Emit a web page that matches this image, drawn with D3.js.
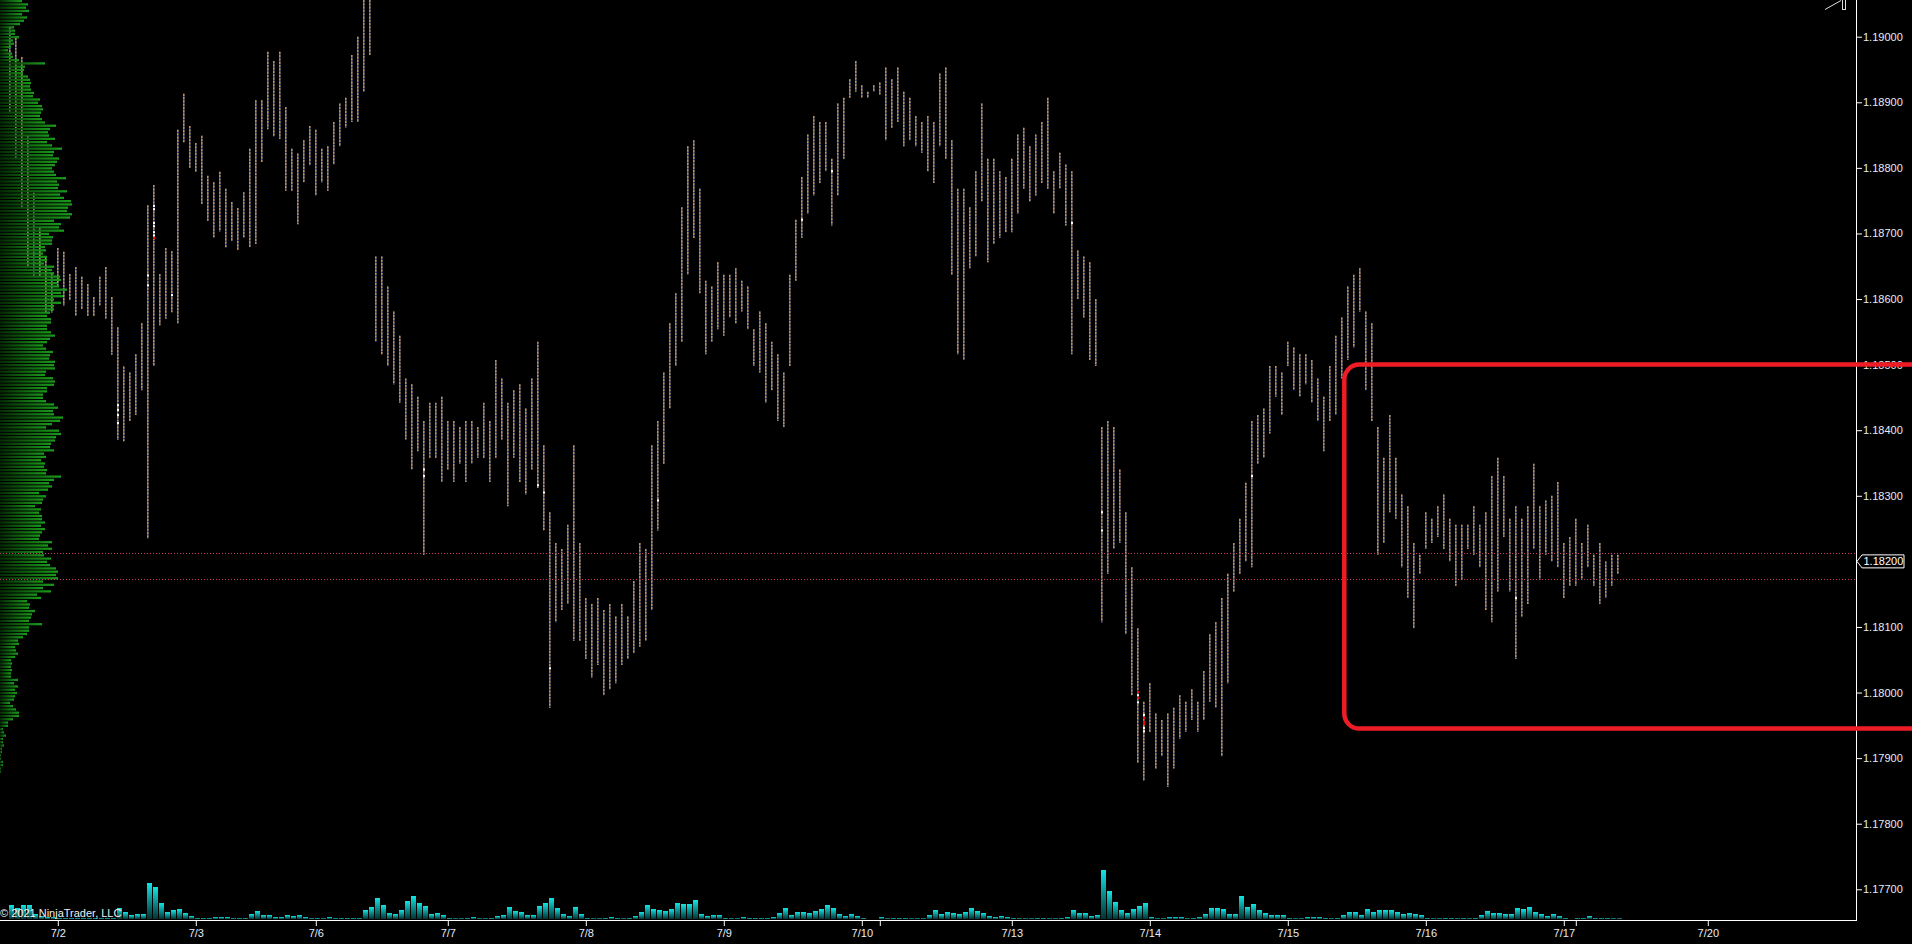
<!DOCTYPE html>
<html><head><meta charset="utf-8">
<script src="https://cdn.jsdelivr.net/npm/d3@7"></script>
<style>html,body{margin:0;padding:0;background:#000;overflow:hidden}</style>
</head><body>
<svg id="c" width="1912" height="944"></svg>
<script>
// ---------- DATA ----------
const barHigh = [
1.19015,1.18998,1.18969,1.18850,1.18762,1.18709,1.18663,1.18640,1.18678,1.18672,1.18638,1.18649,1.18634,1.18623,1.18603,1.18634,1.18649,1.18603,1.18557,1.18497,
1.18488,1.18516,1.18563,1.18743,1.18774,1.18638,1.18678,1.18673,1.18858,1.18913,1.18864,1.18838,1.18849,1.18788,1.18778,1.18794,1.18768,1.18748,1.18739,1.18763,
1.18829,1.18903,1.18903,1.18977,1.18963,1.18977,1.18893,1.18829,1.18822,1.18842,1.18864,1.18858,1.18829,1.18833,
1.18870,1.18898,1.18907,1.18972,1.19000,1.19056,1.19056,1.18665,1.18665,1.18619,
1.18581,1.18544,1.18479,1.18470,1.18451,1.18414,1.18442,1.18442,1.18451,1.18414,
1.18414,1.18405,1.18414,1.18414,1.18405,1.18442,1.18414,1.18507,1.18479,1.18442,
1.18461,1.18470,1.18433,1.18479,1.18535,1.18377,1.18275,1.18228,1.18219,1.18256,
1.18377,1.18228,1.18144,1.18135,1.18144,1.18126,1.18135,1.18116,1.18135,1.18116,
1.18170,
1.18228,1.18219,1.18377,1.18414,1.18488,1.18563,1.18609,1.18740,1.18833,1.18842,
1.18768,1.18628,1.18619,1.18656,1.18637,1.18637,1.18647,1.18628,1.18619,1.18554,
1.18581,1.18563,1.18535,1.18516,1.18488,1.18637,1.18721,1.18786,1.18851,1.18879,
1.18870,1.18870,1.18814,1.18898,1.18907,1.18935,1.18963,1.18926,1.18916,1.18926,
1.18930,
1.18953,1.18935,1.18953,1.18916,1.18907,1.18879,1.18870,1.18879,1.18870,1.18944,
1.18953,1.18842,1.18768,1.18768,1.18740,1.18795,1.18898,1.18814,1.18814,1.18795,
1.18786,1.18814,1.18851,1.18861,1.18833,1.18851,1.18870,1.18907,1.18795,1.18823,
1.18805,1.18795,1.18674,1.18665,1.18656,1.18600,1.18405,1.18414,1.18405,1.18340,
1.18275,1.18191,1.18098,1.17986,1.18014,1.17968,1.17958,1.17968,1.17977,1.17996,
1.17986,1.18005,1.17986,1.18033,1.18089,1.18107,1.18144,1.18181,1.18228,1.18265,
1.18320,
1.18414,1.18423,1.18433,1.18498,1.18498,1.18488,1.18535,1.18526,1.18516,1.18516,
1.18507,1.18479,1.18451,1.18498,1.18544,1.18572,1.18619,1.18637,1.18647,1.18581,
1.18563,1.18405,1.18358,1.18423,1.18358,1.18302,1.18284,1.18228,1.18210,1.18275,
1.18265,1.18284,1.18302,1.18265,1.18256,1.18256,1.18256,1.18284,1.18256,1.18275,
1.18330,1.18358,1.18330,1.18265,1.18284,1.18265,1.18284,1.18349,1.18284,1.18293,
1.18300,
1.18321,1.18228,1.18237,1.18265,1.18228,1.18256,1.18210,1.18228,1.18200,1.18210,
1.18210
];
const barLow = [
1.18884,1.18813,1.18739,1.18649,1.18634,1.18634,1.18579,1.18579,1.18619,1.18590,1.18598,1.18574,1.18585,1.18574,1.18574,1.18590,1.18570,1.18515,1.18385,1.18383,
1.18414,1.18423,1.18461,1.18235,1.18498,1.18560,1.18570,1.18580,1.18563,1.18839,1.18800,1.18794,1.18745,1.18719,1.18694,1.18703,1.18679,1.18688,1.18675,1.18694,
1.18679,1.18684,1.18809,1.18859,1.18848,1.18844,1.18765,1.18765,1.18714,1.18778,1.18804,1.18758,1.18778,1.18765,
1.18805,1.18833,1.18861,1.18870,1.18870,1.18916,1.18972,1.18535,1.18516,1.18498,
1.18470,1.18442,1.18386,1.18340,1.18368,1.18210,1.18358,1.18358,1.18321,1.18340,
1.18321,1.18349,1.18321,1.18349,1.18358,1.18358,1.18321,1.18358,1.18386,1.18284,
1.18358,1.18321,1.18302,1.18340,1.18312,1.18247,1.17977,1.18107,1.18126,1.18135,
1.18079,1.18079,1.18051,1.18023,1.18042,1.17996,1.18005,1.18014,1.18042,1.18051,
1.18060,
1.18070,1.18079,1.18126,1.18247,1.18349,1.18433,1.18498,1.18535,1.18637,1.18693,
1.18609,1.18516,1.18535,1.18554,1.18544,1.18572,1.18563,1.18581,1.18554,1.18498,
1.18488,1.18442,1.18461,1.18414,1.18405,1.18498,1.18628,1.18693,1.18730,1.18758,
1.18777,1.18795,1.18712,1.18758,1.18814,1.18907,1.18916,1.18907,1.18907,1.18916,
1.18912,
1.18842,1.18861,1.18870,1.18833,1.18842,1.18833,1.18823,1.18795,1.18777,1.18833,
1.18814,1.18637,1.18516,1.18507,1.18647,1.18665,1.18749,1.18656,1.18684,1.18693,
1.18702,1.18702,1.18730,1.18768,1.18749,1.18758,1.18777,1.18768,1.18730,1.18768,
1.18712,1.18516,1.18600,1.18572,1.18507,1.18498,1.18107,1.18181,1.18219,1.18228,
1.18089,1.17996,1.17893,1.17865,1.17940,1.17884,1.17903,1.17856,1.17884,1.17930,
1.17940,1.17958,1.17940,1.17958,1.17986,1.17977,1.17903,1.18014,1.18154,1.18181,
1.18200,
1.18191,1.18349,1.18358,1.18395,1.18451,1.18423,1.18498,1.18461,1.18451,1.18470,
1.18442,1.18414,1.18368,1.18414,1.18423,1.18479,1.18507,1.18526,1.18581,1.18461,
1.18414,1.18210,1.18228,1.18275,1.18265,1.18191,1.18144,1.18098,1.18181,1.18219,
1.18228,1.18237,1.18219,1.18200,1.18163,1.18172,1.18219,1.18210,1.18191,1.18126,
1.18107,1.18154,1.18237,1.18154,1.18051,1.18116,1.18135,1.18219,1.18172,1.18210,
1.18200,
1.18191,1.18144,1.18163,1.18163,1.18172,1.18191,1.18163,1.18135,1.18144,1.18163,
1.18181
];
const volume = [
14,11,14,14,5,3,2,2,1,1,1,1,1,1,1,1,1,1,11,7,4,5,5,36,32,16,7,9,10,6,3,1,1,1,2,2,2,1,1,1,
5,8,4,4,2,2,4,3,4,2,1,1,0.5,2,1,1,1,1,1,9,12,21,14,6,5,9,18,23,16,13,5,6,4,1,0.5,0.5,1,2,0.5,0.5,
1,3,4,12,8,7,4,4,13,16,21,11,5,3,12,5,1,0.5,0.5,1,2,1,0.5,1,3,7,14,10,9,8,10,16,15,15,19,5,3,4,
4,1,0.5,0.5,2,1,1,1,1,2,6,11,4,7,7,6,8,10,14,11,5,3,5,3,1,0,0,2,0.5,1,1,1,0.5,0.5,0.5,4,9,5,
7,6,5,7,11,8,6,3,2,3,2,1,0.5,0.5,0.5,1,1,0.5,0.5,1,2,9,6,6,3,4,49,28,17,9,6,10,13,16,2,0.5,
0.5,2,2,2,0.5,1,2,5,11,11,10,5,5,23,12,15,9,6,4,4,4,1,0.5,0.5,2,2,2,1,0.5,1,4,7,7,4,10,7,9,
9,9,7,5,6,5,4,1,0.5,0.5,1,1,0.5,1,0.5,1,4,8,6,6,5,5,11,10,12,7,5,3,5,3,1,0,1,1,3,1,1,1,0.5,0.5
];
const profileTop = 1.19056, profileStep = 0.00005;
const profileVol = [
22,28,26,29,22,27,24,20,14,15,15,19,13,14,11,8,12,13,19,45,25,24,23,28,30,31,30,31,34,33,
40,38,42,43,41,40,42,45,56,50,48,49,55,47,52,62,54,53,59,57,55,52,54,56,66,57,59,58,67,60,
64,71,72,68,67,72,70,54,61,59,64,49,53,52,52,45,46,43,47,47,44,54,52,54,60,61,57,59,67,61,
63,54,61,54,54,50,47,51,51,47,47,51,55,50,47,43,46,53,50,49,55,54,55,46,45,53,55,54,47,47,
43,43,46,54,58,53,54,63,60,52,46,59,61,56,55,51,50,54,44,46,41,45,44,47,46,61,54,49,52,48,
39,46,43,42,35,41,39,42,42,45,41,45,42,40,39,52,48,52,43,44,51,47,50,56,58,56,58,43,54,43,
51,37,41,27,30,29,35,32,31,29,42,29,29,27,23,18,19,15,16,18,15,11,12,11,12,11,11,18,14,18,
15,17,15,14,10,13,16,19,19,13,8,8,3,4,6,3,3,4,2,2,1,1,3,3,1,1
];
// tick marks on the time axis: bar index + label
const dateTickIdx   = [8,31,51,73,96,119,142,145,167,190,213,236,259,261,283];
const dateTickLabel = ["7/2","7/3","7/6","7/7","7/8","7/9","7/10","","7/13","7/14","7/15","7/16","7/17","","7/20"];
const priceTicks = [1.177,1.178,1.179,1.180,1.181,1.182,1.183,1.184,1.185,1.186,1.187,1.188,1.189,1.190];
const lastPrice = 1.18200;
const refLines = [1.18213, 1.18173];
// drawn rectangle: [startBarIndex, topPrice, bottomPrice]
const boxStart = 222.5, boxTop = 1.18500, boxBottom = 1.17945;
// highlighted ticks on bars: [barIndex, price, colour]
const marks = [
[18,1.18438,"#fff"],[18,1.18431,"#fff"],[18,1.18423,"#fff"],[18,1.18411,"#fff"],
[23,1.18636,"#fff"],[23,1.18621,"#fff"],
[24,1.18742,"#fff"],[24,1.18737,"#fff"],[24,1.18716,"#fff"],[24,1.18711,"#fff"],[24,1.18702,"#fff"],[24,1.18697,"#fff"],[24,1.18693,"#f00"],
[27,1.18606,"#fff"],
[69,1.18340,"#fff"],[69,1.18330,"#fff"],[88,1.18316,"#fff"],[89,1.18305,"#fff"],[90,1.18037,"#fff"],
[108,1.18293,"#fff"],[132,1.18721,"#fff"],[137,1.18795,"#fff"],[177,1.18716,"#fff"],
[182,1.18275,"#fff"],[182,1.18247,"#fff"],[207,1.18330,"#fff"],[251,1.18144,"#fff"],
[188,1.18001,"#f00"],[188,1.17996,"#fff"],[188,1.17992,"#f00"],[188,1.17985,"#fff"],
[189,1.17966,"#fff"],[189,1.17961,"#f00"],[189,1.17955,"#f00"],[189,1.17952,"#f00"],[189,1.17946,"#fff"],[189,1.17941,"#fff"]
];

// ---------- CHART ----------
const W = 1912, H = 944, axisX = 1856, axisY = 920;
const font = "Liberation Sans, Arial, sans-serif";
const svg = d3.select("#c");
svg.append("rect").attr("width", W).attr("height", H).attr("fill", "#000");

const x = d3.scaleLinear().domain([0, 283]).range([9.3, 1707.3]);
const y = d3.scaleLinear().domain([1.177, 1.19]).range([889.3, 36.7]);
const vy = d3.scaleLinear().domain([0, 50]).range([919, 869]);
const pw = d3.scaleLinear().domain([0, 72]).range([0, 72]);

const defs = svg.append("defs");
const gv = defs.append("linearGradient").attr("id", "gv").attr("x1", 0).attr("y1", 0).attr("x2", 0).attr("y2", 1);
gv.append("stop").attr("offset", 0).attr("stop-color", "#12e6e6");
gv.append("stop").attr("offset", 1).attr("stop-color", "#023232");
const gp = defs.append("linearGradient").attr("id", "gp").attr("x1", 0).attr("y1", 0).attr("x2", 1).attr("y2", 0);
gp.append("stop").attr("offset", 0).attr("stop-color", "#052a05");
gp.append("stop").attr("offset", 1).attr("stop-color", "#1a9a1a");
defs.append("clipPath").attr("id", "plot").append("rect").attr("x", 0).attr("y", 0).attr("width", axisX).attr("height", axisY);

const plot = svg.append("g").attr("clip-path", "url(#plot)");

// volume bars
plot.append("g").selectAll("rect").data(volume.map((v, i) => ({v, i})).filter(d => d.v > 0))
  .join("rect")
  .attr("x", d => x(d.i) - 0.3).attr("width", 5)
  .attr("y", d => vy(d.v)).attr("height", d => vy(0) - vy(d.v))
  .attr("fill", "url(#gv)");

// price bars
const bars = barHigh.map((h, i) => ({i, h, l: barLow[i]})).filter(d => d.h != null);
const gb = plot.append("g");
gb.selectAll("line.b").data(bars).join("line").attr("class", "b")
  .attr("x1", d => x(d.i) + 0.5).attr("x2", d => x(d.i) + 0.5)
  .attr("y1", d => y(d.h)).attr("y2", d => y(d.l))
  .attr("stroke", "#3558c8").attr("stroke-width", 1.3);
gb.selectAll("line.o").data(bars).join("line").attr("class", "o")
  .attr("x1", d => x(d.i) + 0.5).attr("x2", d => x(d.i) + 0.5)
  .attr("y1", d => y(d.h)).attr("y2", d => y(d.l))
  .attr("stroke", "#eda01c").attr("stroke-width", 1.3).attr("stroke-dasharray", "2.2,1.1");
gb.selectAll("rect.m").data(marks).join("rect").attr("class", "m")
  .attr("x", d => x(d[0]) - 0.3).attr("width", 2)
  .attr("y", d => y(d[1]) - 1).attr("height", 2).attr("fill", d => d[2]);

// volume profile
plot.append("g").selectAll("rect").data(profileVol.map((v, k) => ({v, k})))
  .join("rect")
  .attr("x", 0)
  .attr("y", d => y(profileTop - d.k * profileStep))
  .attr("height", d => Math.max(1, y(profileTop - (d.k + 1) * profileStep) - y(profileTop - d.k * profileStep) - 1))
  .attr("width", d => pw(d.v))
  .attr("fill", "url(#gp)");

// reference lines
plot.append("g").selectAll("line").data(refLines).join("line")
  .attr("x1", 0).attr("x2", axisX).attr("y1", d => Math.round(y(d)) + 0.5).attr("y2", d => Math.round(y(d)) + 0.5)
  .attr("stroke", "#c83c6e").attr("stroke-width", 1).attr("stroke-dasharray", "1,2");

// copyright
svg.append("text").attr("x", 0).attr("y", 917).attr("fill", "#f0f0f0")
  .attr("font-family", font).attr("font-size", 11)
  .text("© 2021 NinjaTrader, LLC");

// axes
const yAxis = d3.axisRight(y).tickValues(priceTicks).tickFormat(d3.format(".5f")).tickSize(6).tickPadding(1);
const ga = svg.append("g").attr("transform", `translate(${axisX},0)`).call(yAxis);
ga.select(".domain").remove();
ga.selectAll("line").attr("stroke", "#fff");
ga.selectAll("text").attr("fill", "#e6ecf8").attr("font-family", font).attr("font-size", 11);

const xAxis = d3.axisBottom(x).tickValues(dateTickIdx).tickFormat((d, k) => dateTickLabel[k]).tickSize(6).tickPadding(3);
const gx = svg.append("g").attr("transform", `translate(0.5,${axisY})`).call(xAxis);
gx.select(".domain").remove();
gx.selectAll("line").attr("stroke", "#fff");
gx.selectAll("text").attr("fill", "#e6ecf8").attr("font-family", font).attr("font-size", 11);

svg.append("line").attr("x1", axisX + 0.5).attr("x2", axisX + 0.5).attr("y1", 0).attr("y2", axisY + 0.5)
  .attr("stroke", "#fff").attr("stroke-width", 1);
svg.append("line").attr("x1", 0).attr("x2", axisX + 1).attr("y1", axisY + 0.5).attr("y2", axisY + 0.5)
  .attr("stroke", "#fff").attr("stroke-width", 1);

// last price marker
const ly = y(lastPrice);
svg.append("path")
  .attr("d", `M${axisX + 1},${ly} L${axisX + 6},${ly - 6.5} H${axisX + 48} V${ly + 6.5} H${axisX + 6} Z`)
  .attr("fill", "#000").attr("stroke", "#fff").attr("stroke-width", 1);
svg.append("text").attr("x", axisX + 7.5).attr("y", ly + 4).attr("fill", "#fff")
  .attr("font-family", font).attr("font-size", 11).text(d3.format(".5f")(lastPrice));

// drawn rectangle
svg.append("rect")
  .attr("x", x(boxStart)).attr("y", y(boxTop))
  .attr("width", 700).attr("height", y(boxBottom) - y(boxTop))
  .attr("rx", 15).attr("ry", 15)
  .attr("fill", "none").attr("stroke", "#ee1c25").attr("stroke-width", 4.5);

// scroll-to-end icon
svg.append("path").attr("d", "M1825,9.5 L1841,0.5").attr("stroke", "#ddd").attr("fill", "none");
svg.append("rect").attr("x", 1842.5).attr("y", -1).attr("width", 3).attr("height", 10.5)
  .attr("stroke", "#ddd").attr("fill", "none");
</script>
</body></html>
